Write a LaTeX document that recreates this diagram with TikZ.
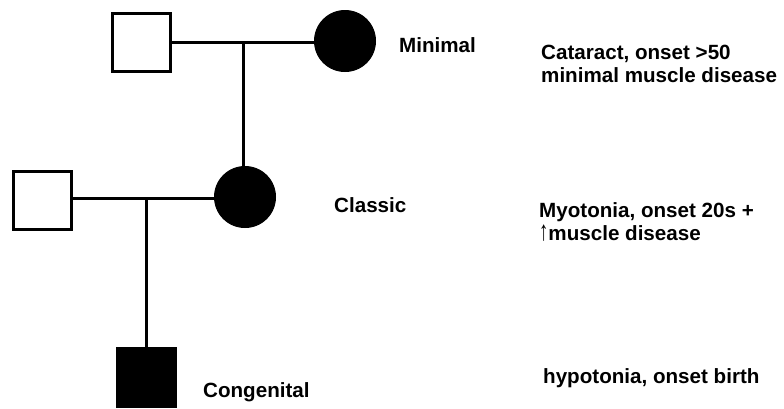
\documentclass[tikz,border=0pt]{standalone}
\usepackage{graphicx}
\usepackage{fontspec}
\setmainfont{Liberation Sans}
\newcommand{\uparr}{\scalebox{0.9}[1.35]{↑}}
\begin{document}
\begin{tikzpicture}[x=1pt,y=-1pt,
  male/.style={draw=black,line width=3pt,rectangle,minimum size=58pt,inner sep=0pt,fill=white},
  malefill/.style={male,fill=black},
  femalefill/.style={draw=black,line width=1pt,circle,minimum size=61pt,inner sep=0pt,fill=black},
  link/.style={line width=3pt},
  lbl/.style={anchor=base west,inner sep=0pt,font=\fontsize{20.6}{22.5}\selectfont\bfseries},
  note/.style={lbl,align=left}]
\useasboundingbox (0,0) rectangle (784,408);
% generation I
\node[male] (gf) at (141,42) {};
\node[femalefill] (gm) at (345,41) {};
% generation II
\node[male] (fa) at (42,200) {};
\node[femalefill] (mo) at (245,197) {};
% generation III
\node[malefill] (ch) at (146,377) {};
% couples and descent lines
\draw[link] (gf.east |- 0,42) -- (gm.west |- 0,42);
\coordinate (m1) at (243,42);
\draw[link] (m1) -- (m1 |- mo.north);
\draw[link] (fa.east |- 0,198) -- (mo.west |- 0,198);
\coordinate (m2) at (146,198);
\draw[link] (m2) -- (ch.north);
% severity labels
\node[lbl] (l1) at (399,52) {Minimal};
\node[lbl] (l2) at (334,212) {Classic};
\node[lbl] (l3) at (203,397) {Congenital};
% clinical notes (anchored on the baseline of their last line)
\node[note] (n1) at (541,82) {Cataract, onset >50\\minimal muscle disease};
\node[note] (n2) at (539,240) {Myotonia, onset 20s +\\\uparr muscle disease};
\node[note] (n3) at (543,383) {hypotonia, onset birth};
\end{tikzpicture}
\end{document}
